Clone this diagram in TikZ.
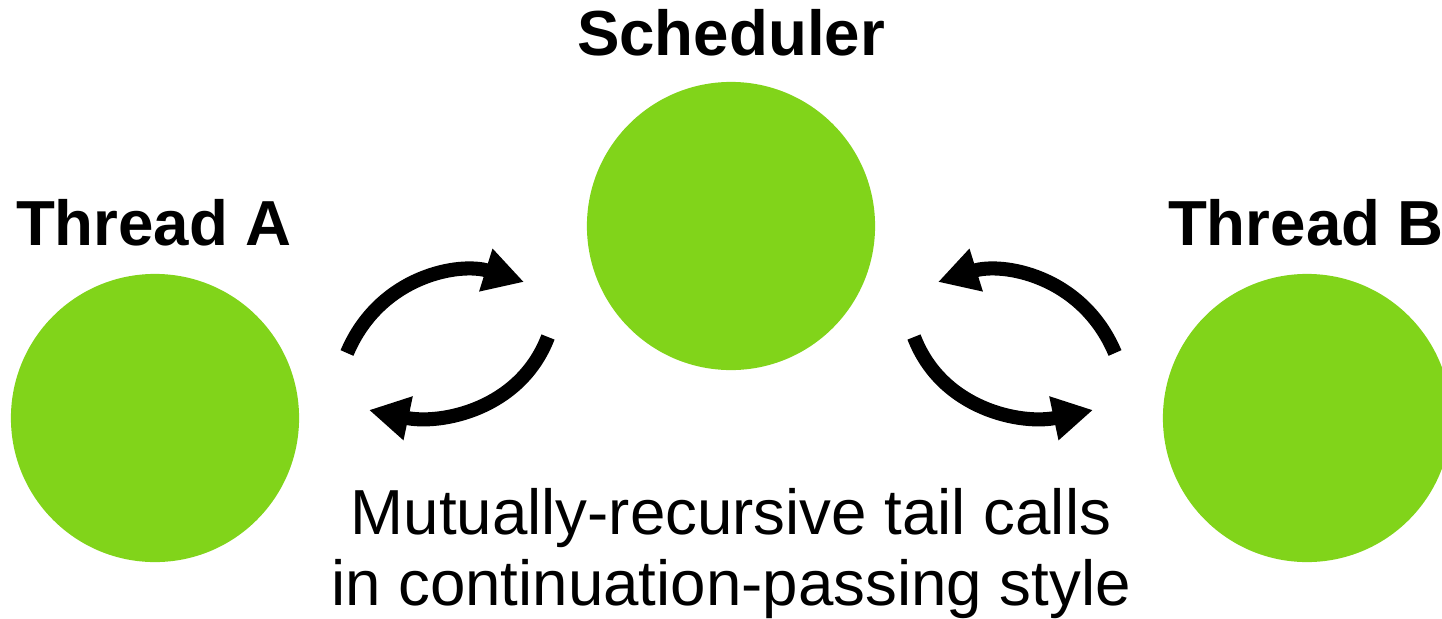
\documentclass[tikz,border=0pt]{standalone}
\usepackage{fontspec}
\setmainfont{Liberation Sans}
\usetikzlibrary{arrows.meta}
\definecolor{threadgreen}{HTML}{81D41A}
\tikzset{
  blob/.style={circle, fill=threadgreen, minimum size=2.88cm, inner sep=0pt},
  title/.style={anchor=base, font=\fontsize{18.1}{20}\selectfont\bfseries},
  caption/.style={anchor=base, align=center, font=\fontsize{18.1}{20.5}\selectfont},
  swap/.style={line width=4pt, -{Triangle[length=0.4cm, width=0.42cm]}}
}
\begin{document}
\begin{tikzpicture}[x=0.01cm, y=-0.01cm]
  \useasboundingbox (0,0) rectangle (1442,618);
  \node[blob] (a) at (155,418) {};
  \node[blob] (s) at (731,226) {};
  \node[blob] (b) at (1307,418) {};
  \node[title] (alabel) at (154,245) {Thread A};
  \node[title] (slabel) at (731,55) {Scheduler};
  \node[title] (blabel) at (1306,245) {Thread B};
  \node[caption] (note) at (731,534) {Mutually-recursive tail calls};
  \node[caption] (note2) at (731,605) {in continuation-passing style};
  % arrow ends
  \coordinate (a1) at (347,353);
  \coordinate (s1) at (524,282);
  \coordinate (s2) at (548,337);
  \coordinate (a2) at (369,410);
  \coordinate (b1) at (1115,353);
  \coordinate (s3) at (938,282);
  \coordinate (s4) at (914,337);
  \coordinate (b2) at (1093,410);
  \begin{scope}[swap]
    \draw (a1) .. controls (380,275) and (460,262) .. (s1);
    \draw (s2) .. controls (520,410) and (440,425) .. (a2);
    \draw (b1) .. controls (1082,275) and (1002,262) .. (s3);
    \draw (s4) .. controls (942,410) and (1022,425) .. (b2);
  \end{scope}
\end{tikzpicture}
\end{document}
